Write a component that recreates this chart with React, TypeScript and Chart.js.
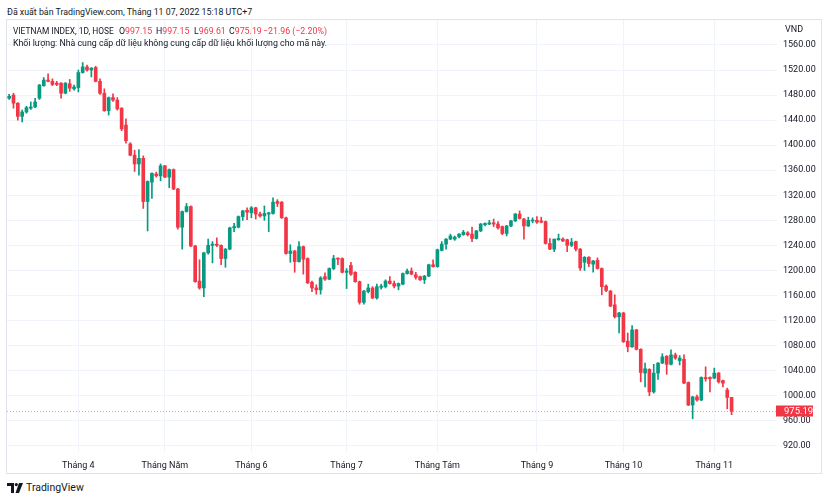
import React, { useEffect, useRef } from "react";
import { Chart, registerables } from "chart.js";

Chart.register(...registerables);

// ---- DATA (VIETNAM INDEX, 1D, HOSE) ----
const opens = [
  1475, 1480, 1467, 1446, 1453, 1459, 1461, 1475, 1495, 1504,
  1502, 1499, 1499, 1483, 1498, 1490, 1492, 1516, 1525, 1520,
  1524, 1502, 1483, 1455, 1476, 1472, 1459, 1432, 1402, 1384,
  1370, 1379, 1310, 1341, 1354, 1351, 1367, 1349, 1361, 1330,
  1269, 1294, 1302, 1239, 1183, 1172, 1228, 1240, 1242, 1240,
  1219, 1234, 1268, 1269, 1286, 1296, 1292, 1300, 1290, 1287,
  1290, 1291, 1310, 1309, 1284, 1227, 1231, 1214, 1238, 1219,
  1181, 1172, 1169, 1190, 1186, 1203, 1219, 1219, 1197, 1208,
  1197, 1182, 1149, 1166, 1172, 1156, 1173, 1174, 1183, 1179,
  1175, 1178, 1195, 1199, 1193, 1190, 1185, 1191, 1209, 1206,
  1232, 1242, 1250, 1250, 1254, 1257, 1260, 1258, 1251, 1263,
  1273, 1274, 1276, 1274, 1270, 1259, 1271, 1279, 1290, 1282,
  1271, 1279, 1280, 1279, 1278, 1243, 1234, 1249, 1250, 1249,
  1240, 1246, 1234, 1213, 1221, 1210, 1216, 1203, 1175, 1167,
  1145, 1126, 1132, 1087, 1078, 1105, 1074, 1036, 1042, 1006,
  1036, 1052, 1063, 1050, 1065, 1056, 1058, 1021, 985, 998,
  993, 1029, 1029, 1028, 1036, 1024, 1009, 997.15,
];
const highs = [
  1481, 1483, 1468, 1456, 1462, 1469, 1475, 1497, 1508, 1514,
  1506, 1502, 1500, 1500, 1505, 1496, 1520, 1532, 1528, 1524,
  1526, 1506, 1490, 1477, 1482, 1476, 1460, 1442, 1404, 1392,
  1393, 1383, 1343, 1356, 1357, 1370, 1368, 1362, 1362, 1331,
  1295, 1307, 1303, 1240, 1217, 1229, 1250, 1246, 1252, 1241,
  1235, 1269, 1275, 1287, 1296, 1300, 1302, 1301, 1293, 1303,
  1293, 1316, 1313, 1310, 1285, 1241, 1232, 1246, 1239, 1220,
  1183, 1177, 1190, 1196, 1204, 1224, 1220, 1220, 1203, 1213,
  1198, 1183, 1168, 1178, 1174, 1178, 1178, 1185, 1190, 1183,
  1180, 1196, 1202, 1204, 1197, 1191, 1192, 1210, 1217, 1234,
  1246, 1251, 1258, 1255, 1259, 1264, 1262, 1269, 1264, 1275,
  1276, 1280, 1282, 1278, 1271, 1272, 1280, 1291, 1295, 1283,
  1285, 1284, 1286, 1285, 1279, 1251, 1250, 1258, 1252, 1250,
  1251, 1247, 1235, 1222, 1222, 1216, 1220, 1204, 1177, 1168,
  1161, 1133, 1133, 1100, 1112, 1106, 1075, 1052, 1043, 1050,
  1053, 1067, 1064, 1073, 1068, 1064, 1065, 1022, 999, 1001,
  1030, 1046, 1030, 1044, 1037, 1025, 1012, 997.15,
];
const lows = [
  1473, 1459, 1440, 1437, 1451, 1457, 1460, 1473, 1494, 1501,
  1495, 1495, 1475, 1482, 1486, 1488, 1485, 1515, 1518, 1509,
  1501, 1481, 1454, 1448, 1470, 1456, 1423, 1403, 1383, 1358,
  1352, 1299, 1263, 1315, 1349, 1343, 1348, 1332, 1329, 1266,
  1234, 1293, 1238, 1181, 1170, 1158, 1226, 1212, 1238, 1209,
  1205, 1233, 1262, 1268, 1280, 1281, 1284, 1282, 1285, 1280,
  1262, 1290, 1302, 1283, 1226, 1213, 1197, 1213, 1194, 1179,
  1166, 1162, 1162, 1184, 1185, 1201, 1209, 1196, 1171, 1192,
  1181, 1146, 1146, 1164, 1155, 1154, 1170, 1172, 1178, 1172,
  1169, 1177, 1194, 1193, 1186, 1184, 1179, 1190, 1205, 1205,
  1231, 1234, 1249, 1248, 1252, 1256, 1255, 1246, 1250, 1262,
  1271, 1273, 1270, 1266, 1257, 1255, 1270, 1278, 1282, 1250,
  1270, 1276, 1275, 1276, 1242, 1233, 1230, 1248, 1246, 1230,
  1238, 1231, 1200, 1200, 1206, 1197, 1202, 1161, 1166, 1142,
  1124, 1100, 1085, 1070, 1077, 1073, 1022, 1014, 1000, 1004,
  1026, 1051, 1034, 1049, 1058, 1049, 1019, 984, 963, 991,
  992, 1023, 1006, 1027, 1020, 1014, 979, 969.61,
];
const closes = [
  1478, 1467, 1446, 1453, 1460, 1461, 1469, 1496, 1504, 1502,
  1497, 1497, 1483, 1499, 1491, 1493, 1516, 1525, 1520, 1523,
  1502, 1483, 1455, 1476, 1472, 1458, 1426, 1407, 1384, 1370,
  1379, 1310, 1342, 1355, 1351, 1367, 1349, 1361, 1330, 1269,
  1294, 1302, 1239, 1182, 1172, 1228, 1240, 1242, 1240, 1219,
  1234, 1268, 1270, 1286, 1295, 1293, 1300, 1290, 1287, 1291,
  1292, 1309, 1307, 1284, 1227, 1231, 1214, 1238, 1218, 1180,
  1172, 1169, 1188, 1186, 1203, 1219, 1218, 1197, 1199, 1194,
  1182, 1149, 1167, 1172, 1156, 1174, 1175, 1183, 1179, 1175,
  1179, 1195, 1199, 1194, 1189, 1185, 1191, 1209, 1206, 1233,
  1242, 1250, 1255, 1253, 1258, 1261, 1257, 1251, 1263, 1274,
  1275, 1276, 1274, 1268, 1259, 1271, 1279, 1290, 1283, 1271,
  1280, 1280, 1277, 1277, 1243, 1234, 1250, 1251, 1247, 1240,
  1245, 1234, 1204, 1221, 1211, 1215, 1203, 1174, 1168, 1143,
  1126, 1132, 1086, 1078, 1105, 1074, 1037, 1043, 1006, 1036,
  1052, 1062, 1050, 1065, 1060, 1060, 1020, 985, 998, 993,
  1029, 1027, 1027, 1036, 1022, 1020, 997.15, 975.19,
];

// empty trading-day slots kept to the right of the last candle
const EMPTY_SLOTS = 10;
// index of the first session of each month, and its label
const monthStartIndex = [16, 36, 56, 78, 99, 122, 142, 163];
const monthLabels = ["Tháng 4", "Tháng Năm", "Tháng 6", "Tháng 7", "Tháng Tám", "Tháng 9", "Tháng 10", "Tháng 11"];
const priceMin = 910;
const priceMax = 1599.9;
const priceStep = 40;
const lastClose = 975.19;

const UP = "#089981";
const DOWN = "#F23645";
const TEXT = "#131722";
const GRID = "#f0f3fa";
const FONT = "Roboto, 'Liberation Sans', Arial, sans-serif";

const lastPricePlugin = {
  id: "lastPrice",
  beforeDatasetsDraw(chart: any) {
    const { ctx, chartArea, scales } = chart;
    const py = Math.round(scales.y.getPixelForValue(lastClose)) + 0.5;
    ctx.save();
    ctx.strokeStyle = "rgba(242,54,69,0.5)";
    ctx.lineWidth = 1;
    ctx.setLineDash([1, 2]);
    ctx.beginPath();
    ctx.moveTo(chartArea.left, py);
    ctx.lineTo(chartArea.right, py);
    ctx.stroke();
    ctx.restore();
  },
  afterDraw(chart: any) {
    const { ctx, scales } = chart;
    const y = scales.y;
    const py = Math.round(y.getPixelForValue(lastClose));
    ctx.save();
    ctx.fillStyle = DOWN;
    ctx.fillRect(y.left - 1, py - 5.5, 37, 11);
    ctx.fillStyle = "#ffffff";
    ctx.font = `9.5px ${FONT}`;
    ctx.textBaseline = "middle";
    ctx.textAlign = "left";
    ctx.fillText(lastClose.toFixed(2), y.left + 7, py + 0.5);
    ctx.fillStyle = TEXT;
    ctx.font = `9px ${FONT}`;
    ctx.fillText("VND", y.left + 8, 10);
    ctx.restore();
  },
};

function CandleChart() {
  const ref = useRef<HTMLCanvasElement | null>(null);
  useEffect(() => {
    if (!ref.current) return;
    const n = closes.length;
    const labels = Array.from({ length: n + EMPTY_SLOTS }, (_, i) => String(i));
    const colors = closes.map((c, i) => (c >= opens[i] ? UP : DOWN));
    const bodies: any[] = opens.map((o, i) => [o, closes[i]]);
    const wicks: any[] = lows.map((l, i) => [l, highs[i]]);
    for (let i = 0; i < EMPTY_SLOTS; i++) {
      bodies.push(null);
      wicks.push(null);
    }
    const chart = new Chart(ref.current, {
      type: "bar",
      data: {
        labels,
        datasets: [
          {
            data: bodies,
            backgroundColor: colors,
            barThickness: 3,
            grouped: false,
            minBarLength: 1,
            borderWidth: 0,
          } as any,
          {
            data: wicks,
            backgroundColor: colors,
            barThickness: 1,
            grouped: false,
            borderWidth: 0,
          } as any,
        ],
      },
      options: {
        animation: false,
        responsive: true,
        maintainAspectRatio: false,
        layout: { padding: 0 },
        plugins: { legend: { display: false }, tooltip: { enabled: false } },
        scales: {
          x: {
            type: "category",
            offset: true,
            grid: { offset: false, color: GRID, drawTicks: false },
            border: { display: false },
            afterBuildTicks: (axis: any) => {
              axis.ticks = monthStartIndex.map((v) => ({ value: v }));
            },
            afterFit: (axis: any) => {
              axis.height = 21;
              axis.paddingLeft = 0;
              axis.paddingRight = 0;
            },
            ticks: {
              autoSkip: false,
              maxRotation: 0,
              minRotation: 0,
              padding: 8,
              color: TEXT,
              font: { family: FONT, size: 9 },
              callback: (_v: any, i: number) => monthLabels[i],
            },
          },
          y: {
            type: "linear",
            position: "right",
            min: priceMin,
            max: priceMax,
            grid: { color: GRID, drawTicks: false },
            border: { display: false },
            afterFit: (axis: any) => {
              axis.width = 44;
              axis.paddingTop = 0;
              axis.paddingBottom = 0;
            },
            ticks: {
              stepSize: priceStep,
              includeBounds: false,
              padding: 6,
              color: TEXT,
              font: { family: FONT, size: 9 },
              callback: (v: any) => Number(v).toFixed(2),
            },
          },
        },
      },
      plugins: [lastPricePlugin],
    });
    return () => chart.destroy();
  }, []);
  return <canvas ref={ref} />;
}

export default function App() {
  const red = { color: DOWN };
  const legendRow = { position: "absolute" as const, top: 25, lineHeight: "12px", fontSize: 8.8, whiteSpace: "nowrap" as const };
  return (
    <div
      style={{
        position: "absolute",
        left: 0,
        top: 0,
        width: 830,
        height: 500,
        background: "#ffffff",
        fontFamily: FONT,
        color: TEXT,
        overflow: "hidden",
      }}
    >
      <div style={{ position: "absolute", left: 7, top: 6, fontSize: 8.8, lineHeight: "12px", whiteSpace: "nowrap" }}>
        Đã xuất bản TradingView.com, Tháng 11 07, 2022 15:18 UTC+7
      </div>
      <div
        style={{
          position: "absolute",
          left: 6,
          top: 19,
          width: 816,
          height: 455,
          border: "1px solid #e0e3eb",
          boxSizing: "border-box",
        }}
      />
      <div style={{ position: "absolute", left: 7, top: 20, width: 814, height: 453 }}>
        <CandleChart />
      </div>
      <div style={{ ...legendRow, left: 13, fontSize: 8.4 }}>VIETNAM INDEX, 1D, HOSE</div>
      <div style={{ ...legendRow, left: 119 }}>O<span style={red}>997.15</span></div>
      <div style={{ ...legendRow, left: 156 }}>H<span style={red}>997.15</span></div>
      <div style={{ ...legendRow, left: 194 }}>L<span style={red}>969.61</span></div>
      <div style={{ ...legendRow, left: 229 }}>C<span style={red}>975.19</span></div>
      <div style={{ ...legendRow, left: 263, ...red }}>−21.96 (−2.20%)</div>
      <div style={{ ...legendRow, top: 37, left: 13 }}>
        Khối lượng: Nhà cung cấp dữ liệu không cung cấp dữ liệu khối lượng cho mã này.
      </div>
      <div style={{ position: "absolute", left: 7, top: 482, height: 12, display: "flex", alignItems: "center" }}>
        <svg width="16" height="10" viewBox="0 0 16 10">
          <path d="M0 0 H7 V10 H4 V3 H0 Z" fill={TEXT} />
          <circle cx="9.3" cy="1.6" r="1.6" fill={TEXT} />
          <path d="M12 0 H16 L12 10 H8.5 Z" fill={TEXT} />
        </svg>
        <span style={{ marginLeft: 3, fontSize: 10.5, lineHeight: "12px" }}>TradingView</span>
      </div>
    </div>
  );
}
